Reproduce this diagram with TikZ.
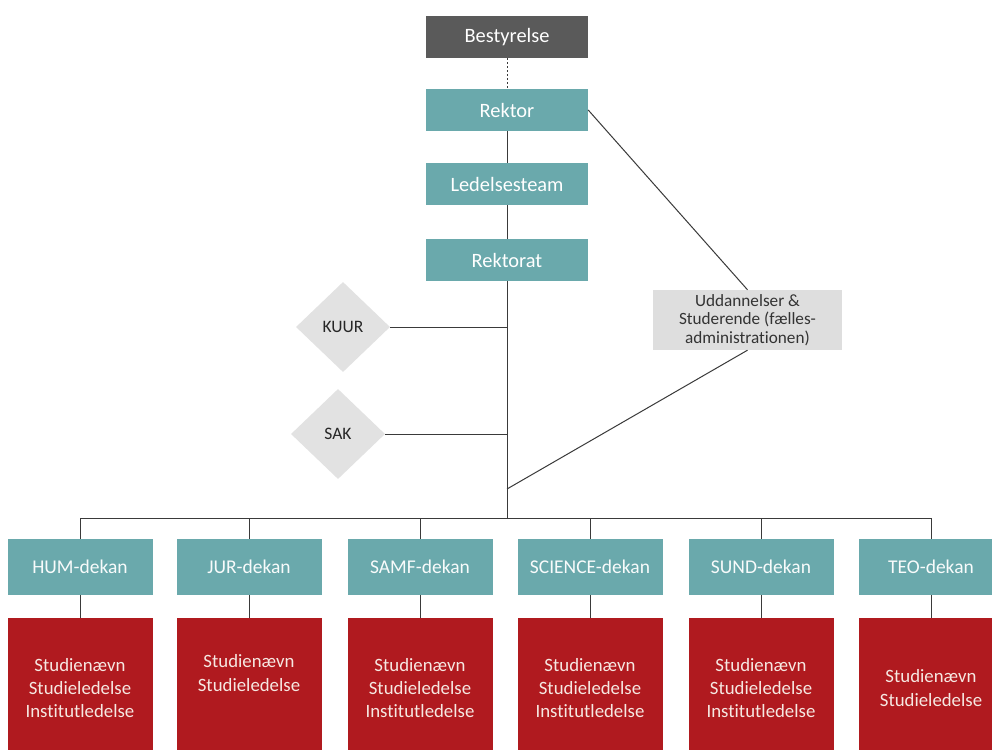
\documentclass[tikz,border=0pt]{standalone}
\usepackage{fontspec}
\setmainfont{Carlito}[Ligatures=NoCommon]
\usetikzlibrary{shapes.geometric}
\definecolor{teal1}{HTML}{6AA9AC}
\definecolor{darkbox}{HTML}{5A5A5A}
\definecolor{redbox}{HTML}{B01A1F}
\definecolor{lgray}{HTML}{DEDEDE}
\definecolor{dgray}{HTML}{E2E2E2}
\definecolor{linec}{HTML}{3A3A3A}
\definecolor{redtext}{HTML}{F6E8E2}
\tikzset{
  topbox/.style={rectangle, fill=teal1, text=white, minimum width=162pt, minimum height=42pt, inner sep=0pt, font=\fontsize{20.4}{24}\selectfont},
  darkbx/.style={topbox, fill=darkbox},
  dekanbox/.style={rectangle, fill=teal1, text=white!95!teal1, minimum width=145pt, minimum height=56pt, inner sep=0pt, font=\fontsize{19.5}{22}\selectfont},
  redbx/.style={rectangle, fill=redbox, text=redtext, minimum width=145pt, minimum height=140pt, inner sep=0pt, align=center, font=\fontsize{18.8}{23.3}\selectfont},
  diam/.style={diamond, fill=dgray, text=black!85, inner sep=0pt, minimum width=94pt, minimum height=90pt, font=\fontsize{17.5}{20}\selectfont},
  graybx/.style={rectangle, fill=lgray, text=black!80, minimum width=189pt, minimum height=60pt, inner sep=0pt, align=center, font=\fontsize{17.2}{18.5}\selectfont},
  conn/.style={draw=linec, line width=1pt},
}
\begin{document}
\begin{tikzpicture}[x=1pt, y=-1pt]
\useasboundingbox (0,0) rectangle (992,749);
\clip (0,0) rectangle (992,749);
\fill[white] (0,0) rectangle (992,749);

\node[darkbx] (best) at (507,37) {Bestyrelse};
\node[topbox] (rektor) at (507,110) {Rektor};
\node[topbox] (ledel) at (507,184) {Ledelsesteam};
\node[topbox] (rektorat) at (507,260) {Rektorat};

\node[diam] (kuur) at (343,327) {KUUR};
\node[diam] (sak) at (338,434) {SAK};

\node[graybx] (udd) at (747.5,320) {Uddannelser \&\\Studerende (fælles-\\administrationen)};

\coordinate (kj) at (507,327);
\coordinate (sj) at (507,434);
\coordinate (uj) at (507,489);
\coordinate (bar) at (507,518);
\coordinate (barL) at (80,518);
\coordinate (barR) at (931,518);

\draw[conn, dashed, dash pattern=on 2pt off 2pt] (best.south) -- (rektor.north);
\draw[conn] (rektor.south) -- (ledel.north);
\draw[conn] (ledel.south) -- (rektorat.north);
\draw[conn] (rektorat.south) -- (bar);
\draw[conn] (kuur.east) -- (kj);
\draw[conn] (sak.east) -- (sj);
\draw[conn] (rektor.east) -- (udd.north);
\draw[conn] (udd.south) -- (uj);
\draw[conn] (barL) -- (barR);

\foreach \x/\n/\lbl/\txt in {
  80/hum/HUM-dekan/{Studienævn\\Studieledelse\\Institutledelse},
  249/jur/JUR-dekan/{Studienævn\\Studieledelse\\\strut},
  420/samf/SAMF-dekan/{Studienævn\\Studieledelse\\Institutledelse},
  590/sci/SCIENCE-dekan/{Studienævn\\Studieledelse\\Institutledelse},
  761/sund/SUND-dekan/{Studienævn\\Studieledelse\\Institutledelse},
  931/teo/TEO-dekan/{Studienævn\\Studieledelse}}{
  \node[dekanbox] (\n) at (\x,567) {\lbl};
  \node[redbx] (\n r) at (\x,688) {\txt};
  \coordinate (\n b) at (\x,518);
  \draw[conn] (\n b) -- (\n.north);
  \draw[conn] (\n.south) -- (\n r.north);
}
\end{tikzpicture}
\end{document}
